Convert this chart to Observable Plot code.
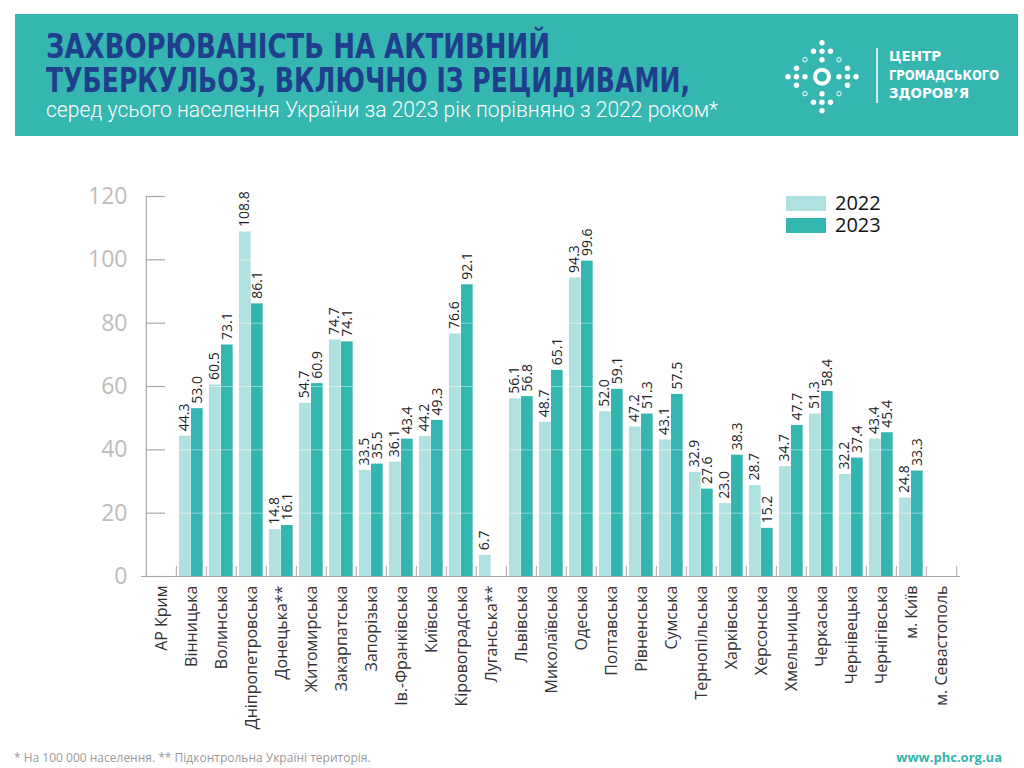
<!DOCTYPE html>
<html lang="uk">
<head>
<meta charset="utf-8">
<script src="https://cdn.jsdelivr.net/npm/d3@7"></script>
<script src="https://cdn.jsdelivr.net/npm/@observablehq/plot@0.6"></script>
<style>
  html, body { margin: 0; padding: 0; background: #fff; }
  body { width: 1024px; height: 768px; position: relative; overflow: hidden; font-family: "Open Sans", sans-serif; }
  #header { position: absolute; left: 15px; top: 14px; width: 1003px; height: 122px; background: #36b6b1; }
  .tline { position: absolute; left: 31px; white-space: nowrap; transform-origin: 0 0; }
  .title { font-family: "Liberation Sans Narrow", "DejaVu Sans Condensed", sans-serif; font-weight: bold; font-size: 33px; line-height: 28px; color: #1f3f8d; }
  .sub { font-family: Roboto, sans-serif; font-weight: 300; font-size: 22px; line-height: 18px; color: #fff; }
  #logo { position: absolute; left: 0; top: 0; }
  .ltxt { position: absolute; left: 874px; font-family: "Liberation Sans Narrow", "DejaVu Sans Condensed", sans-serif; font-weight: bold; font-size: 14px; line-height: 13px; color: #fff; white-space: nowrap; transform-origin: 0 0; }
  #chart { position: absolute; left: 0; top: 150px; }
  #legend { position: absolute; left: 786px; top: 196px; }
  .lg { position: absolute; left: 0; width: 40px; height: 15px; }
  .lgt { position: absolute; left: 49px; font-family: "Open Sans", sans-serif; font-size: 20px; line-height: 18px; color: #111; }
  #foot1 { position: absolute; left: 14px; top: 749px; font-size: 12px; color: #9a9a9a; white-space: nowrap; }
  #foot2 { position: absolute; right: 22px; top: 748px; font-size: 13px; font-weight: bold; color: #35b5b0; white-space: nowrap; }
</style>
</head>
<body>
<div id="header">
  <div class="tline title" id="t1" style="top:18.5px" data-w="504">ЗАХВОРЮВАНІСТЬ НА АКТИВНИЙ</div>
  <div class="tline title" id="t2" style="top:52.5px" data-w="644">ТУБЕРКУЛЬОЗ, ВКЛЮЧНО ІЗ РЕЦИДИВАМИ,</div>
  <div class="tline sub" id="t3" style="top:87px" data-w="672">серед усього населення України за 2023 рік порівняно з 2022 роком*</div>
  <svg id="logo" width="1003" height="122"></svg>
  <div class="ltxt" style="top:35.5px" data-w="52">ЦЕНТР</div>
  <div class="ltxt" style="top:54.5px" data-w="110">ГРОМАДСЬКОГО</div>
  <div class="ltxt" style="top:72.5px" data-w="80">ЗДОРОВ’Я</div>
</div>
<div id="chart"></div>
<div id="legend">
  <div class="lg" style="top:0;background:#aee1df"></div>
  <div class="lgt" style="top:-2.5px">2022</div>
  <div class="lg" style="top:22px;background:#33b5b0"></div>
  <div class="lgt" style="top:19.5px">2023</div>
</div>
<div id="foot1">* На 100 000 населення. ** Підконтрольна Україні територія.</div>
<div id="foot2">www.phc.org.ua</div>
<script>
// ---- data ----
const regions = ["АР Крим","Вінницька","Волинська","Дніпропетровська","Донецька**","Житомирська","Закарпатська","Запорізька","Ів.-Франківська","Київська","Кіровоградська","Луганська**","Львівська","Миколаївська","Одеська","Полтавська","Рівненська","Сумська","Тернопільська","Харківська","Херсонська","Хмельницька","Черкаська","Чернівецька","Чернігівська","м. Київ","м. Севастополь"];
const values2022 = [null,44.3,60.5,108.8,14.8,54.7,74.7,33.5,36.1,44.2,76.6,6.7,56.1,48.7,94.3,52.0,47.2,43.1,32.9,23.0,28.7,34.7,51.3,32.2,43.4,24.8,null];
const values2023 = [null,53.0,73.1,86.1,16.1,60.9,74.1,35.5,43.4,49.3,92.1,null,56.8,65.1,99.6,59.1,51.3,57.5,27.6,38.3,15.2,47.7,58.4,37.4,45.4,33.3,null];
const yTicks = [0,20,40,60,80,100,120];

const rows2022 = regions.map((r,i) => ({region: r, value: values2022[i]})).filter(d => d.value != null);
const rows2023 = regions.map((r,i) => ({region: r, value: values2023[i]})).filter(d => d.value != null);

// ---- layout ----
const W = 1024, H = 610, mL = 141, mR = 64, mT = 46, mB = 184;
const step = (W - mL - mR) / regions.length;
const fmt = d3.format(".1f");
const c22 = "#aee1df", c23 = "#33b5b0";
const sepLen = 10 * (yTicks[yTicks.length-1]) / (H - mT - mB);

const chart = Plot.plot({
  width: W, height: H,
  marginLeft: mL, marginRight: mR, marginTop: mT, marginBottom: mB,
  style: {fontFamily: "'Open Sans', sans-serif", background: "transparent"},
  x: {domain: regions, padding: 0, label: null},
  y: {domain: [0, 120], label: null},
  marks: [
    Plot.barY(rows2022, {x: "region", y: "value", fill: c22, insetLeft: 3, insetRight: step - 15}),
    Plot.barY(rows2023, {x: "region", y: "value", fill: c23, insetLeft: 15, insetRight: step - 27}),
    Plot.ruleY(yTicks.filter(d => d > 0), {stroke: "#fff", strokeOpacity: 0.45, strokeWidth: 1}),
    Plot.text(rows2022, {x: "region", y: "value", text: d => fmt(d.value), rotate: -90, textAnchor: "start", lineAnchor: "middle", dx: -6.5, dy: -5, fontSize: 14, fill: "#222"}),
    Plot.text(rows2023, {x: "region", y: "value", text: d => fmt(d.value), rotate: -90, textAnchor: "start", lineAnchor: "middle", dx: 6, dy: -5, fontSize: 14, fill: "#222"}),
    Plot.ruleY([0], {stroke: "#a8a8a8", strokeWidth: 1.2}),
    Plot.ruleX([regions[0]], {dx: -step/2, y1: 0, y2: yTicks[yTicks.length-1], stroke: "#a8a8a8", strokeWidth: 1.2}),
    Plot.tickY(yTicks, {x: () => regions[0], y: d => d, insetRight: 11, stroke: "#a8a8a8", strokeWidth: 1.2}),
    Plot.ruleX(regions.slice(1), {dx: -step/2, y1: 0, y2: sepLen, stroke: "#a8a8a8"}),
    Plot.ruleX(regions.slice(-1), {dx: step/2, y1: 0, y2: sepLen, stroke: "#a8a8a8"}),
    Plot.axisY({ticks: yTicks, tickSize: 0, tickPadding: 14, fontSize: 23, color: "#bdbdbd", label: null}),
    Plot.axisX({tickRotate: -90, tickSize: 0, tickPadding: 9, fontSize: 16, color: "#333", label: null})
  ]
});
document.getElementById("chart").appendChild(chart);

// ---- header fitting ----
document.querySelectorAll("[data-w]").forEach(el => {
  const w = el.getBoundingClientRect().width;
  el.style.transform = `scaleX(${(+el.dataset.w) / w})`;
});

// ---- logo (decorative) ----
const logo = d3.select("#logo");
const cx = 807, cy = 62.7, u = 8.5;
const filled = [[0,-4],[-1,-3],[0,-3],[1,-3],[0,-2],[-3,-1],[3,-1],[-4,0],[-3,0],[-2,0],[2,0],[3,0],[4,0],[-3,1],[3,1],[0,2],[-1,3],[0,3],[1,3],[0,4]];
const hollow = [[-2,-2],[2,-2],[-2,2],[2,2]];
logo.selectAll("circle.f").data(filled).join("circle").attr("class","f")
  .attr("cx", d => cx + d[0]*u).attr("cy", d => cy + d[1]*u).attr("r", 2.7).attr("fill", "#fff");
logo.selectAll("circle.h").data(hollow).join("circle").attr("class","h")
  .attr("cx", d => cx + d[0]*u).attr("cy", d => cy + d[1]*u).attr("r", 2.2).attr("fill", "none").attr("stroke", "#fff").attr("stroke-width", 1);
logo.append("circle").attr("cx", cx).attr("cy", cy).attr("r", 7).attr("fill", "none").attr("stroke", "#fff").attr("stroke-width", 4);
logo.append("line").attr("x1", 862).attr("x2", 862).attr("y1", 34).attr("y2", 89).attr("stroke", "#fff").attr("stroke-width", 1.5);
</script>
</body>
</html>
